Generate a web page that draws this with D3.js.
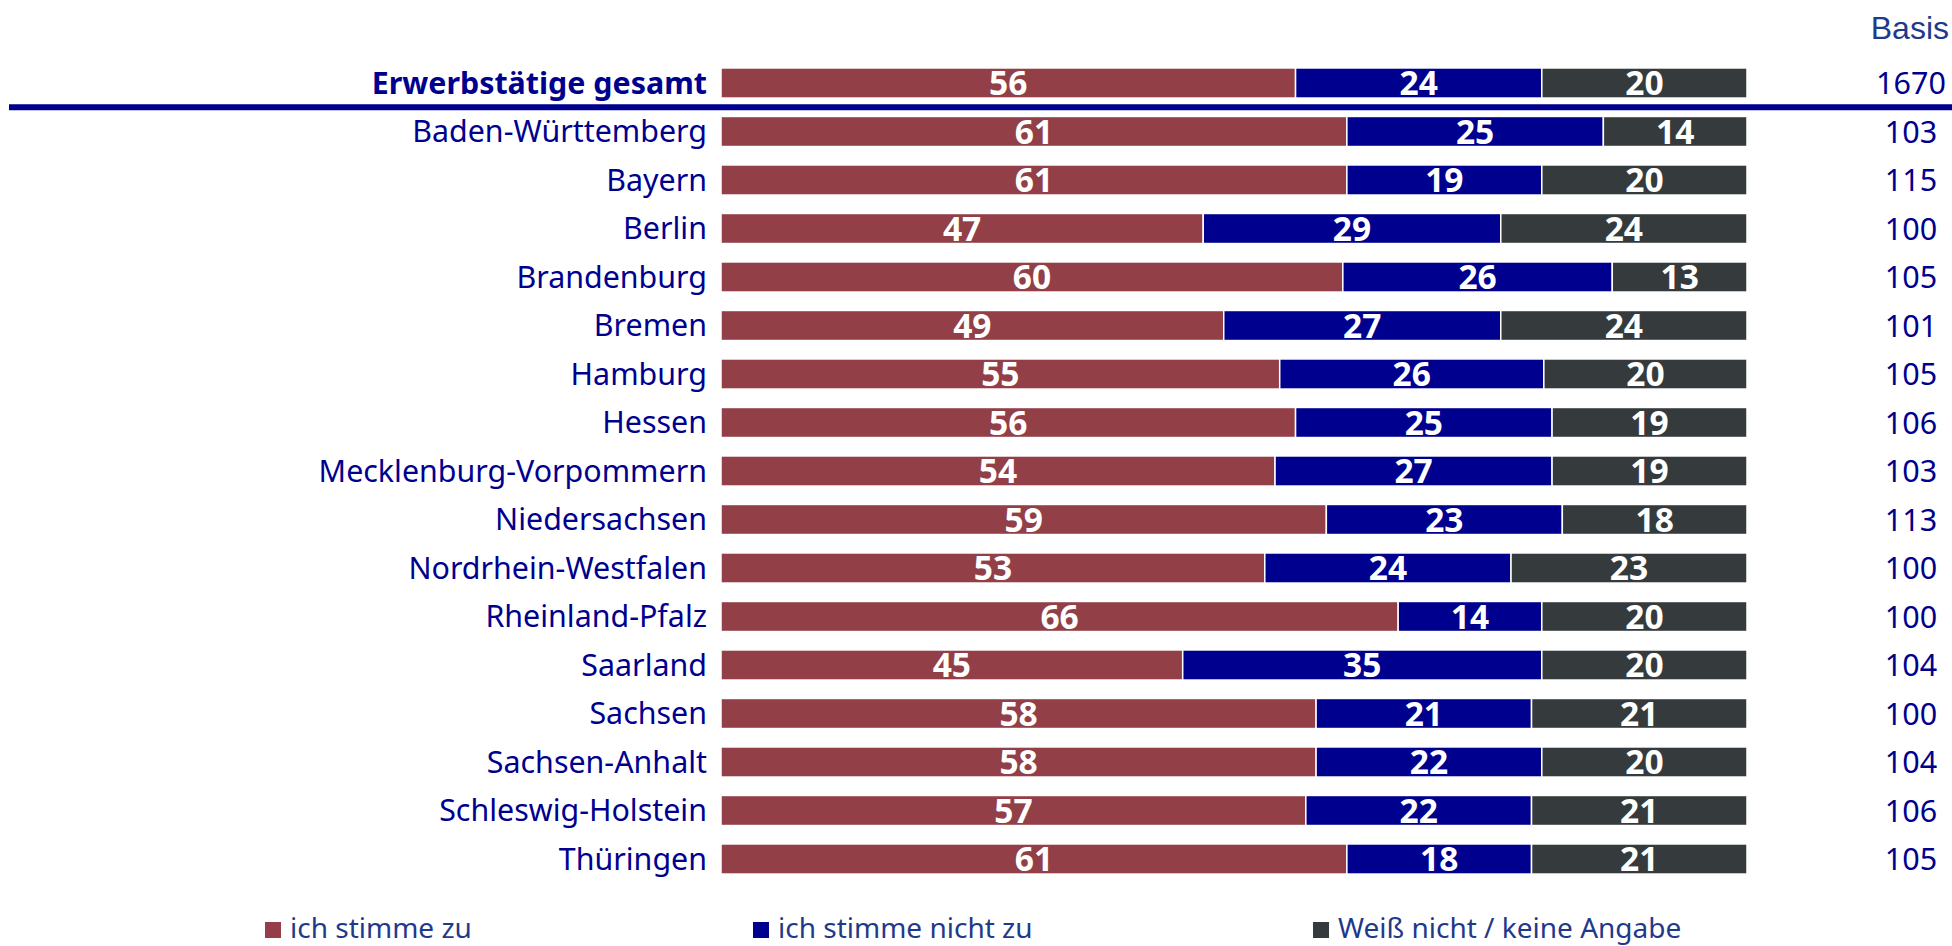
<!DOCTYPE html>
<html>
<head>
<meta charset="utf-8">
<script src="https://cdn.jsdelivr.net/npm/d3@7"></script>
<style>
  html, body { margin: 0; padding: 0; background: #fff; }
  svg { display: block; }
</style>
</head>
<body>
<svg id="chart" width="1952" height="946"></svg>
<script>
const categories = ["Erwerbstätige gesamt","Baden-Württemberg","Bayern","Berlin","Brandenburg","Bremen","Hamburg","Hessen","Mecklenburg-Vorpommern","Niedersachsen","Nordrhein-Westfalen","Rheinland-Pfalz","Saarland","Sachsen","Sachsen-Anhalt","Schleswig-Holstein","Thüringen"];
const stimmeZu      = [56,61,61,47,60,49,55,56,54,59,53,66,45,58,58,57,61];
const stimmeNichtZu = [24,25,19,29,26,27,26,25,27,23,24,14,35,21,22,22,18];
const weissNicht    = [20,14,20,24,13,24,20,19,19,18,23,20,20,21,20,21,21];
const basis         = [1670,103,115,100,105,101,105,106,103,113,100,100,104,100,104,106,105];
const seriesNames   = ["ich stimme zu","ich stimme nicht zu","Weiß nicht / keine Angabe"];
const seriesColors  = ["#923f47","#00008e","#353b3c"];

const rows = categories.map((c, i) => ({cat: c, s0: stimmeZu[i], s1: stimmeNichtZu[i], s2: weissNicht[i], basis: basis[i]}));
const keys = ["s0","s1","s2"];

const svg = d3.select("#chart");
const FONT = "'Noto Sans', 'Open Sans', sans-serif";

const x = d3.scaleLinear().domain([0, 1]).range([721, 1747]);
const y = d3.scaleBand().domain(categories).range([58.75, 883.25]).paddingInner(0.38).paddingOuter(0.19);
const color = d3.scaleOrdinal().domain(keys).range(seriesColors);

const stack = d3.stack().keys(keys).offset(d3.stackOffsetExpand);
const stacked = stack(rows);

// bars
const g = svg.append("g");
stacked.forEach(layer => {
  const raw = layer.key;
  g.selectAll(null).data(layer).join("rect")
    .attr("x", d => x(d[0]))
    .attr("y", d => y(d.data.cat))
    .attr("width", d => x(d[1]) - x(d[0]))
    .attr("height", y.bandwidth())
    .attr("fill", color(raw))
    .attr("stroke", "#fff")
    .attr("stroke-width", 1.5);
  g.selectAll(null).data(layer).join("text")
    .attr("x", d => (x(d[0]) + x(d[1])) / 2)
    .attr("y", d => y(d.data.cat) + y.bandwidth() / 2)
    .attr("dy", "0.37em")
    .attr("text-anchor", "middle")
    .attr("fill", "#fff")
    .attr("font-family", FONT)
    .attr("font-weight", "bold")
    .attr("font-size", 33.5)
    .text(d => d.data[raw]);
});

// category labels
svg.append("g").selectAll("text").data(rows).join("text")
  .attr("x", 707)
  .attr("y", d => y(d.cat) + y.bandwidth() / 2)
  .attr("dy", "0.36em")
  .attr("text-anchor", "end")
  .attr("fill", "#00008e")
  .attr("font-family", FONT)
  .attr("font-weight", (d, i) => i === 0 ? "bold" : "normal")
  .attr("font-size", (d, i) => i === 0 ? 30.4 : 30.4)
  .text(d => d.cat);

// separator line
const sepY = (y(categories[0]) + y.bandwidth() + y(categories[1])) / 2;
svg.append("rect")
  .attr("x", 9).attr("y", sepY - 3)
  .attr("width", 1952 - 9).attr("height", 6)
  .attr("fill", "#00008e");

// basis column
svg.append("text")
  .attr("x", 1949).attr("y", 39)
  .attr("text-anchor", "end")
  .attr("fill", "#1f3a8a")
  .attr("font-family", "'Liberation Sans', Arial, sans-serif")
  .attr("font-size", 32)
  .text("Basis");

svg.append("g").selectAll("text").data(rows).join("text")
  .attr("x", 1911)
  .attr("y", d => y(d.cat) + y.bandwidth() / 2)
  .attr("dy", "0.37em")
  .attr("text-anchor", "middle")
  .attr("fill", "#00008e")
  .attr("font-family", FONT)
  .attr("font-size", 30.5)
  .text(d => d.basis);

// legend
const legendX = [265, 753, 1313];
const lg = svg.append("g").selectAll("g").data(keys).join("g")
  .attr("transform", (d, i) => `translate(${legendX[i]},0)`);
lg.append("rect")
  .attr("x", 0).attr("y", 922).attr("width", 16).attr("height", 16)
  .attr("fill", d => color(d));
lg.append("text")
  .attr("x", 25).attr("y", 938)
  .attr("fill", "#1f3a8a")
  .attr("font-family", FONT)
  .attr("font-size", 28)
  .text((d, i) => seriesNames[i]);
</script>
</body>
</html>
